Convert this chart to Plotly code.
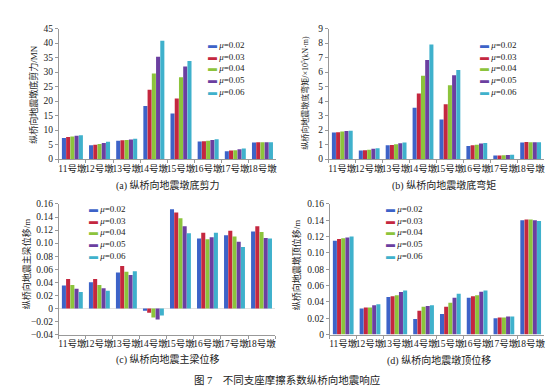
import plotly.graph_objects as go

piers = ["11号墩", "12号墩", "13号墩", "14号墩", "15号墩", "16号墩", "17号墩", "18号墩"]
series = ["0.02", "0.03", "0.04", "0.05", "0.06"]
colors = ["#3d63c8", "#c4273f", "#8cc43c", "#6b3fa0", "#3fb1cc"]

# (a) base shear, MN  (rows: mu series, cols: piers)
shear = [
    [7.3, 4.8, 6.3, 18.3, 15.7, 6.1, 2.7, 5.7],
    [7.6, 5.0, 6.5, 23.9, 20.9, 6.2, 3.0, 5.8],
    [7.8, 5.2, 6.6, 29.5, 28.2, 6.3, 3.1, 5.8],
    [8.1, 5.6, 6.8, 35.3, 31.9, 6.6, 3.4, 5.8],
    [8.2, 6.0, 7.0, 40.8, 33.8, 6.9, 3.7, 5.8],
]
# (b) base moment, x10^5 kN·m
moment = [
    [1.83, 0.60, 0.95, 3.54, 2.73, 0.90, 0.25, 1.15],
    [1.86, 0.62, 0.98, 4.52, 3.78, 0.95, 0.25, 1.18],
    [1.90, 0.65, 1.02, 5.75, 5.10, 1.00, 0.26, 1.17],
    [1.94, 0.72, 1.10, 6.83, 5.79, 1.08, 0.28, 1.17],
    [1.95, 0.75, 1.15, 7.90, 6.15, 1.12, 0.30, 1.17],
]
# (c) girder displacement, m
girder = [
    [0.035, 0.040, 0.055, -0.0035, 0.152, 0.107, 0.112, 0.118],
    [0.045, 0.045, 0.065, -0.0065, 0.147, 0.116, 0.119, 0.126],
    [0.036, 0.036, 0.056, -0.014, 0.138, 0.106, 0.110, 0.117],
    [0.030, 0.031, 0.051, -0.017, 0.126, 0.109, 0.102, 0.108],
    [0.025, 0.027, 0.057, -0.011, 0.115, 0.116, 0.094, 0.107],
]
# (d) pier top displacement, m
pier_top = [
    [0.115, 0.032, 0.046, 0.019, 0.025, 0.045, 0.020, 0.140],
    [0.117, 0.033, 0.047, 0.029, 0.034, 0.047, 0.021, 0.141],
    [0.118, 0.033, 0.048, 0.034, 0.039, 0.048, 0.021, 0.141],
    [0.119, 0.036, 0.052, 0.035, 0.045, 0.0525, 0.022, 0.140],
    [0.120, 0.037, 0.054, 0.036, 0.050, 0.054, 0.022, 0.139],
]

ytitles = ["纵桥向地震墩底剪力/MN",
           "纵桥向地震墩底弯矩/×10<sup>5</sup>(kN·m)",
           "纵桥向地震主梁位移/m",
           "纵桥向地震墩顶位移/m"]
subtitles = ["(a) 纵桥向地震墩底剪力", "(b) 纵桥向地震墩底弯矩",
             "(c) 纵桥向地震主梁位移", "(d) 纵桥向地震墩顶位移"]
caption = "图 7　不同支座摩擦系数纵桥向地震响应"

yticks_a = [0, 5, 10, 15, 20, 25, 30, 35, 40, 45]
yticks_b = [0, 1, 2, 3, 4, 5, 6, 7, 8, 9]
yticks_c = [-0.04, -0.02, 0, 0.02, 0.04, 0.06, 0.08, 0.10, 0.12, 0.14, 0.16]
yticktext_c = ["−0.04", "−0.02", "0", "0.02", "0.04", "0.06", "0.08", "0.10", "0.12", "0.14", "0.16"]
yticks_d = [0, 0.02, 0.04, 0.06, 0.08, 0.10, 0.12, 0.14, 0.16]
yticktext_d = ["0", "0.02", "0.04", "0.06", "0.08", "0.10", "0.12", "0.14", "0.16"]

W, H = 558, 389
FONT = "Liberation Serif, Noto Sans CJK SC, serif"

def px_x(p):
    return p / W

def px_y(p):
    return 1 - p / H

panels = [
    dict(data=shear, xd=(50, 268), yd=(16, 150), rng=[0, 45], tv=yticks_a, tt=[str(v) for v in yticks_a]),
    dict(data=moment, xd=(321, 537), yd=(16, 150), rng=[0, 9], tv=yticks_b, tt=[str(v) for v in yticks_b]),
    dict(data=girder, xd=(50, 267), yd=(196, 330), rng=[-0.04, 0.16], tv=yticks_c, tt=yticktext_c),
    dict(data=pier_top, xd=(322, 537), yd=(196, 330), rng=[0, 0.16], tv=yticks_d, tt=yticktext_d),
]

fig = go.Figure()
layout = {}
for k, p in enumerate(panels):
    n = "" if k == 0 else str(k + 1)
    for i, s in enumerate(series):
        fig.add_trace(go.Bar(
            x=piers, y=p["data"][i], name="μ=" + s,
            marker=dict(color=colors[i], line=dict(width=0)),
            xaxis="x" + n, yaxis="y" + n, showlegend=False,
        ))
    layout["xaxis" + n] = dict(
        domain=[px_x(p["xd"][0]), px_x(p["xd"][1])], anchor="y" + n,
        type="category", showline=True, linecolor="#999", linewidth=1,
        ticks="outside", tickson="boundaries", ticklen=3, tickcolor="#999",
        tickangle=0, tickfont=dict(size=9.5, color="#222", family=FONT),
        showgrid=False, zeroline=False, fixedrange=True,
    )
    layout["yaxis" + n] = dict(
        domain=[px_y(p["yd"][1]), px_y(p["yd"][0])], anchor="x" + n,
        range=p["rng"], tickvals=p["tv"], ticktext=p["tt"],
        showline=True, linecolor="#999", linewidth=1,
        ticks="outside", ticklen=3, tickcolor="#999",
        tickfont=dict(size=9.5, color="#222", family=FONT),
        showgrid=False, zeroline=(k == 2), zerolinecolor="#e2e2e2", zerolinewidth=1,
    )

annotations = []
# y-axis titles
ytitle_pos = [(25, 83), (297, 82), (17, 257), (288, 258)]
ytitle_size = [9, 8, 9, 9]
for t, (x, y), fs in zip(ytitles, ytitle_pos, ytitle_size):
    annotations.append(dict(text=t, x=px_x(x), y=px_y(y), xref="paper", yref="paper",
                            textangle=-90, showarrow=False, xanchor="center", yanchor="middle",
                            font=dict(size=fs, color="#222", family=FONT)))
# subtitles
sub_pos = [(160, 177), (437, 177), (160, 356), (432, 357)]
for t, (x, y) in zip(subtitles, sub_pos):
    annotations.append(dict(text=t, x=px_x(x), y=px_y(y), xref="paper", yref="paper",
                            showarrow=False, xanchor="center", yanchor="middle",
                            font=dict(size=10, color="#222", family=FONT)))
# caption
annotations.append(dict(text=caption, x=px_x(279), y=px_y(377), xref="paper", yref="paper",
                        showarrow=False, xanchor="center", yanchor="middle",
                        font=dict(size=10.5, color="#222", family=FONT)))
# legends (one per panel)
legend_lines = "<br>".join(
    "<span style='color:%s'>▬</span> <i>μ</i>=%s" % (c, s) for c, s in zip(colors, series))
leg_pos = [(198, 57), (471, 57), (78, 225), (376, 225)]
for (x, y) in leg_pos:
    annotations.append(dict(text=legend_lines, x=px_x(x), y=px_y(y), xref="paper", yref="paper",
                            showarrow=False, xanchor="left", yanchor="middle", align="left",
                            font=dict(size=9, color="#222", family=FONT)))

fig.update_layout(
    **layout,
    annotations=annotations,
    barmode="group", bargap=0.22, bargroupgap=0.04,
    width=W, height=H, margin=dict(l=0, r=0, t=0, b=0),
    paper_bgcolor="white", plot_bgcolor="white",
    font=dict(family=FONT, color="#222"),
)

fig.write_html("out.html")
